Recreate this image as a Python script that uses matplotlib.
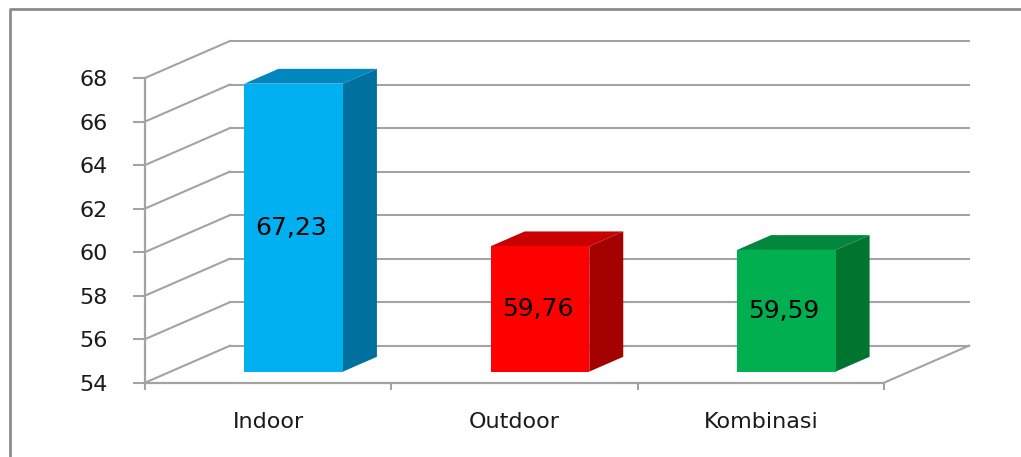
import numpy as np
import matplotlib
matplotlib.use("Agg")
import matplotlib.pyplot as plt
from matplotlib.patches import Polygon
from matplotlib.lines import Line2D

categories = ["Indoor", "Outdoor", "Kombinasi"]
values = [67.23, 59.76, 59.59]
value_labels = ["67,23", "59,76", "59,59"]
yticks = [54, 56, 58, 60, 62, 64, 66, 68]

front_colors = ["#00B0F0", "#FF0000", "#00B050"]
top_colors = ["#0087BE", "#C80000", "#00873D"]
side_colors = ["#00709E", "#A30000", "#007530"]

ymin, ymax = 54, 68
DX, DY = 0.345, 1.70   # depth offset (category units, value units)
D0, D1 = 0.30, 0.70    # bar depth fraction (front, back)
W = 0.40               # bar width
grid_c = "#A3A3A3"


def proj(x, v, d):
    return (x + d * DX, v + d * DY)


fig = plt.figure(figsize=(10.21, 4.57), dpi=100)
ax = fig.add_axes([145 / 1021, 74.3 / 457, 739 / 1021, 304.7 / 457])
ax.set_xlim(-0.5, len(categories) - 0.5)
ax.set_ylim(ymin, ymax)
ax.patch.set_alpha(0)

x0, x1 = -0.5, len(categories) - 0.5

# walls
for v in yticks:
    bx0, by = proj(x0, v, 1)
    bx1, _ = proj(x1, v, 1)
    ax.plot([bx0, bx1], [by, by], color=grid_c, lw=1.5, clip_on=False, zorder=1)
    ax.plot([x0, bx0], [v, by], color=grid_c, lw=1.5, clip_on=False, zorder=1)
# floor right edge
fx, fy = proj(x1, ymin, 1)
ax.plot([x1, fx], [ymin, fy], color=grid_c, lw=1.5, clip_on=False, zorder=1)

# bars
for i, (val, lab) in enumerate(zip(values, value_labels)):
    left, right = i - W / 2, i + W / 2
    front = [proj(left, ymin, D0), proj(right, ymin, D0),
             proj(right, val, D0), proj(left, val, D0)]
    side = [proj(right, ymin, D0), proj(right, ymin, D1),
            proj(right, val, D1), proj(right, val, D0)]
    top = [proj(left, val, D0), proj(right, val, D0),
           proj(right, val, D1), proj(left, val, D1)]
    ax.add_patch(Polygon(side, closed=True, fc=side_colors[i], ec="none",
                         clip_on=False, zorder=3))
    ax.add_patch(Polygon(top, closed=True, fc=top_colors[i], ec="none",
                         clip_on=False, zorder=3))
    ax.add_patch(Polygon(front, closed=True, fc=front_colors[i], ec="none",
                         clip_on=False, zorder=4))
    tx, ty = proj(i, (ymin + val) / 2, D0)
    ax.text(tx - 0.01, ty, lab, ha="center", va="center", fontsize=18,
            color="black", zorder=5)

# axes styling
for s in ["top", "right"]:
    ax.spines[s].set_visible(False)
for s in ["left", "bottom"]:
    ax.spines[s].set_color(grid_c)
    ax.spines[s].set_linewidth(1.6)
ax.set_yticks(yticks)
ax.tick_params(axis="y", length=8.6, width=1.5, color=grid_c, pad=18,
               labelsize=16, labelcolor="#1A1A1A")
ax.set_xticks(range(len(categories)))
ax.set_xticklabels(categories)
ax.set_xticks(np.arange(-0.5, len(categories), 1.0), minor=True)
ax.tick_params(axis="x", which="major", length=0, pad=21,
               labelsize=16, labelcolor="#1A1A1A")
ax.tick_params(axis="x", which="minor", length=5, width=1.5, color=grid_c)

# outer frame (cropped: only top and left edges visible)
fl, ft = 10 / 1021, (457 - 9) / 457
fig.add_artist(Line2D([fl, fl, 1.01], [-0.01, ft, ft], transform=fig.transFigure,
                      color="#8C8C8C", lw=2))

fig.savefig("out.png", dpi=100)
